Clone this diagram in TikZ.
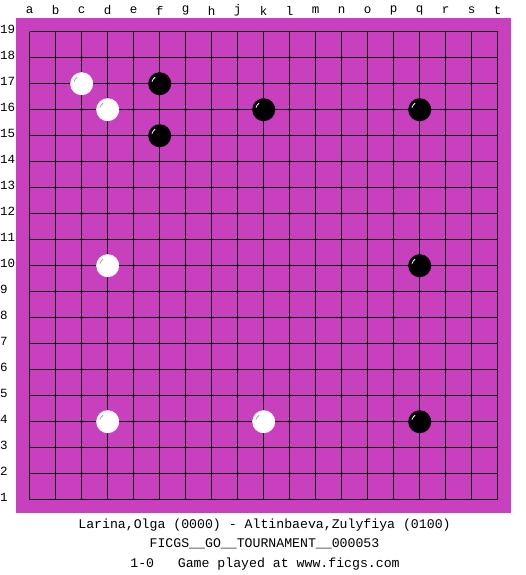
\documentclass[tikz,border=0pt]{standalone}
\usepackage{fontspec}
\setmonofont{Liberation Mono}
\definecolor{board}{RGB}{200,64,190}
\begin{document}
\begin{tikzpicture}[x=1pt,y=-1pt,
  lab/.style={font=\ttfamily\fontsize{12.5}{12.5}\selectfont, inner sep=0pt},
  caption/.style={font=\ttfamily\fontsize{13.2}{13.2}\selectfont, inner sep=0pt},
  stone/.style={circle, minimum size=23pt, inner sep=0pt},
  bstone/.style={stone, fill=black},
  wstone/.style={stone, fill=white},
  gridline/.style={line width=1pt, black}]
\useasboundingbox (0,0) rectangle (525,575);
\fill[board] (16,18) rectangle (511,513);
\foreach \i in {0,...,18} {
  \draw[gridline] (29.7+26*\i,31.7) -- (29.7+26*\i,499.7);
  \draw[gridline] (29.7,31.7+26*\i) -- (497.7,31.7+26*\i);
}
\foreach \l [count=\i from 0] in {a,b,c,d,e,f,g,h,j,k,l,m,n,o,p,q,r,s,t}
  \node[lab] (col\l) at (29.7+26*\i,10.5) {\l};
\foreach \r in {1,...,19}
  \node[lab, anchor=west] (row\r) at (0,29.5+26*19-26*\r) {\r};
% white stones
\foreach \n/\c/\r in {c17/2/17, d16/3/16, d10/3/10, d4/3/4, k4/9/4} {
  \node[wstone] (\n) at (29.7+26*\c,31.7+26*19-26*\r) {};
  \draw[gray!70, line width=0.8pt] (\n) ++(195:8) arc[start angle=195, end angle=235, radius=8];
}
% black stones
\foreach \n/\c/\r in {f17/5/17, f15/5/15, k16/9/16, q16/15/16, q10/15/10, q4/15/4} {
  \node[bstone] (\n) at (29.7+26*\c,31.7+26*19-26*\r) {};
  \draw[white, line width=0.8pt] (\n) ++(195:8) arc[start angle=195, end angle=235, radius=8];
}
\node[caption] (players) at (264.5,525) {Larina,Olga (0000) - Altinbaeva,Zulyfiya (0100)};
\node[caption] (event) at (264.5,544) {FICGS\_\_GO\_\_TOURNAMENT\_\_000053};
\node[caption] (result) at (265,564) {1-0~~~Game played at www.ficgs.com};
\end{tikzpicture}
\end{document}
